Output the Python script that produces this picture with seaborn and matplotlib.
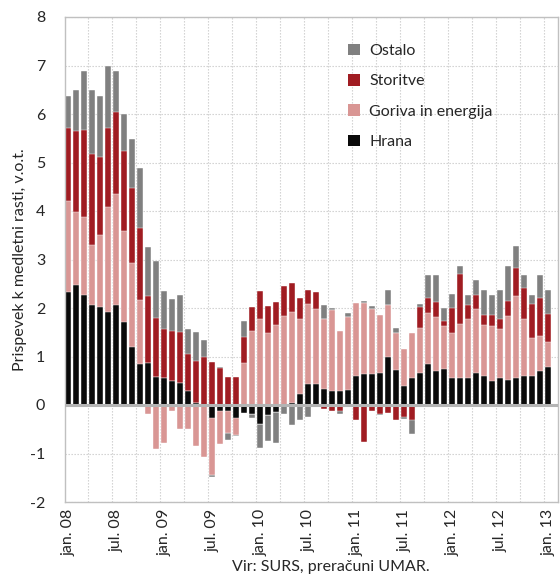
import numpy as np
import pandas as pd
import seaborn as sns
import matplotlib.pyplot as plt
from matplotlib.patches import Patch

# months jan.08 - jan.13
mes = ['jan', 'feb', 'mar', 'apr', 'maj', 'jun', 'jul', 'avg', 'sep', 'okt', 'nov', 'dec']
months = [f"{m}. {y:02d}" for y in range(8, 13) for m in mes] + ['jan. 13']

hrana = [2.33, 2.48, 2.27, 2.06, 2.03, 1.92, 2.06, 1.71, 1.20, 0.85, 0.87, 0.58,
         0.55, 0.49, 0.46, 0.28, 0.05, 0.00, -0.27, -0.12, -0.12, -0.27, -0.16, -0.18,
         -0.39, -0.20, -0.15, -0.02, 0.04, 0.22, 0.43, 0.43, 0.34, 0.28, 0.28, 0.31,
         0.60, 0.64, 0.64, 0.67, 1.00, 0.73, 0.40, 0.55, 0.67, 0.85, 0.70, 0.74,
         0.55, 0.55, 0.55, 0.67, 0.60, 0.49, 0.55, 0.52, 0.55, 0.60, 0.60, 0.70,
         0.79]
goriva = [1.88, 1.49, 1.61, 1.23, 1.47, 2.17, 2.29, 1.88, 1.73, 1.31, -0.19, -0.90,
          -0.78, -0.12, -0.50, -0.50, -0.84, -1.08, -1.17, -0.68, -0.45, -0.35, 0.86, 1.53,
          1.77, 1.48, 1.65, 1.84, 1.88, 1.55, 1.65, 1.55, 1.43, 1.67, 1.25, 1.50,
          1.50, 1.46, 1.34, 1.19, 1.07, 0.75, 0.75, 0.93, 0.92, 1.04, 1.11, 0.89,
          0.93, 1.13, 1.22, 1.30, 1.05, 1.13, 1.01, 1.32, 1.70, 1.17, 0.79, 0.72,
          0.50]
storitve = [1.51, 1.67, 1.80, 1.89, 1.62, 1.63, 1.70, 1.65, 1.54, 1.48, 1.38, 1.22,
            1.01, 1.04, 1.05, 0.78, 0.86, 0.98, 0.88, 0.76, 0.58, 0.58, 0.54, 0.50,
            0.59, 0.56, 0.47, 0.61, 0.59, 0.44, 0.29, 0.35, -0.09, -0.12, -0.12, 0.00,
            -0.30, -0.76, -0.13, -0.18, -0.17, -0.31, -0.25, -0.31, 0.44, 0.32, 0.32, 0.11,
            0.53, 1.03, 0.29, 0.30, 0.21, 0.24, 0.21, 0.31, 0.58, 0.65, 0.70, 0.79,
            0.59]
ostalo = [0.65, 0.85, 1.20, 1.31, 1.25, 1.26, 0.83, 0.75, 1.01, 1.24, 1.00, 1.16,
          0.80, 0.66, 0.76, 0.51, 0.60, 0.37, -0.05, 0.03, -0.15, -0.02, 0.34, -0.09,
          -0.50, -0.55, -0.63, -0.17, -0.42, -0.31, -0.25, -0.04, 0.30, 0.06, -0.06, 0.08,
          0.00, 0.05, 0.06, -0.02, 0.30, 0.11, -0.03, -0.28, 0.05, 0.48, 0.56, 0.25,
          0.27, 0.16, 0.21, 0.30, 0.52, 0.41, 0.61, 0.72, 0.45, 0.27, 0.18, 0.48,
          0.50]

names = ['Hrana', 'Goriva in energija', 'Storitve', 'Ostalo']
colors = ['#0a0a0a', '#d99694', '#a01c22', '#808080']

sns.set_style("white")
plt.rcParams['font.family'] = ['Lato', 'DejaVu Sans']

vals = np.array([hrana, goriva, storitve, ostalo])
pos = np.clip(vals, 0, None).cumsum(axis=0)
neg = np.clip(vals, None, 0).cumsum(axis=0)

fig = plt.figure(figsize=(5.6, 5.79), dpi=100)
ax = fig.add_axes([64.7 / 560, 1 - 502 / 579, 493.3 / 560, 485 / 579])

# gridlines first
for yv in range(-2, 9):
    ax.axhline(yv, color='#cccccc', lw=0.8, ls=(0, (1.2, 1.5)), zorder=0)
for xv in np.arange(2.5, 60, 3):
    ax.axvline(xv, color='#cccccc', lw=0.8, ls=(0, (1.2, 1.5)), zorder=0)

# stacked bars drawn as layered cumulative sums
for i in reversed(range(4)):
    df = pd.DataFrame({'mesec': months, 'pos': pos[i], 'neg': neg[i]})
    sns.barplot(data=df, x='mesec', y='pos', color=colors[i], saturation=1,
                width=0.75, errorbar=None, edgecolor='white', linewidth=0.3, ax=ax, zorder=2)
    sns.barplot(data=df, x='mesec', y='neg', color=colors[i], saturation=1,
                width=0.75, errorbar=None, edgecolor='white', linewidth=0.3, ax=ax, zorder=2)

ax.axhline(0, color='#b4b4b4', lw=2.2, zorder=3)

ax.set_xlim(-0.45, 61.2)
ax.set_ylim(-2, 8)
ax.set_yticks(range(-2, 9))
ax.set_yticklabels([str(v) for v in range(-2, 9)], fontsize=11.5)
ax.set_xticks(range(0, 61, 6))
ax.set_xticklabels([months[k] for k in range(0, 61, 6)], rotation=90, fontsize=11.5)
ax.tick_params(axis='y', length=0, pad=14)
ax.tick_params(axis='x', length=0, pad=5)
ax.set_xlabel('')
ax.set_ylabel('Prispevek k medletni rasti, v.o.t.', fontsize=11.5, labelpad=2)
for s in ax.spines.values():
    s.set_color('#c0c0c0')
    s.set_linewidth(1)

handles = [Patch(facecolor=colors[i], edgecolor='none', label=names[i]) for i in [3, 2, 1, 0]]
ax.legend(handles=handles, loc='upper left', bbox_to_anchor=(0.545, 0.975), frameon=False,
          fontsize=11.5, handlelength=0.75, handleheight=0.75, labelspacing=1.0, handletextpad=0.6)

fig.text(331 / 560, 1 - 567 / 579, 'Vir: SURS, preračuni UMAR.', ha='center', va='center', fontsize=11.5)

fig.savefig('out.png', dpi=100)
